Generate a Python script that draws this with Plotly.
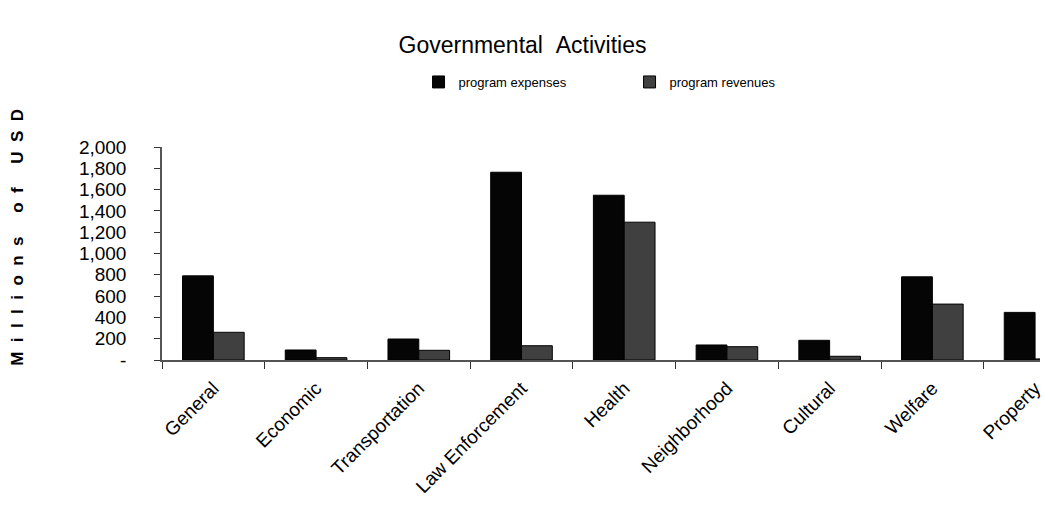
import plotly.graph_objects as go

categories = ["General", "Economic", "Transportation", "Law Enforcement", "Health",
              "Neighborhood", "Cultural", "Welfare", "Property"]
program_expenses = [790, 94, 197, 1763, 1547, 141, 185, 781, 447]
program_revenues = [260, 22, 91, 134, 1294, 125, 35, 525, 10]
y_tickvals = [0, 200, 400, 600, 800, 1000, 1200, 1400, 1600, 1800, 2000]
y_ticktext = ["-", "200", "400", "600", "800", "1,000", "1,200", "1,400", "1,600", "1,800", "2,000"]

FONT = "Liberation Sans, Arial, sans-serif"

fig = go.Figure()
fig.add_trace(go.Bar(x=categories, y=program_expenses, name="program expenses",
                     marker=dict(color="#050505", line=dict(color="#000000", width=1))))
fig.add_trace(go.Bar(x=categories, y=program_revenues, name="program revenues",
                     marker=dict(color="#404040", line=dict(color="#000000", width=1))))

nb = "\u00a0"
ytitle = (nb * 2).join("Millions") + nb * 5 + (nb * 2).join("of") + nb * 5 + (nb * 2).join("USD")

fig.update_layout(
    width=1045, height=521,
    margin=dict(l=162, r=0, t=147, b=161),
    paper_bgcolor="white", plot_bgcolor="white",
    barmode="group", bargap=0.4, bargroupgap=0,
    font=dict(family=FONT, color="#000000"),
    title=dict(text="Governmental" + nb * 2 + "Activities", x=0.5, xref="container", xanchor="center",
               y=1 - 45 / 521, yref="container", yanchor="middle", font=dict(size=23, family=FONT)),
    showlegend=True,
    legend=dict(orientation="h", x=(420 - 162) / 883, xanchor="left", y=1 + (147 - 82) / 213,
                yanchor="middle", font=dict(size=13, family=FONT), entrywidth=166,
                itemwidth=30, bgcolor="rgba(0,0,0,0)"),
    xaxis=dict(type="category", range=[-0.5, 8.048], tickson="boundaries",
               ticks="outside", ticklen=7, tickcolor="#333", tickwidth=1,
               showline=True, linecolor="#555", linewidth=1.5, tickangle=-45,
               ticklabelstandoff=8,
               tickfont=dict(size=19, family=FONT), showgrid=False),
    yaxis=dict(range=[0, 2000], tickvals=y_tickvals, ticktext=y_ticktext,
               ticks="outside", ticklen=6, tickcolor="#333", showline=True,
               linecolor="#555", linewidth=1.5, showgrid=False, zeroline=False,
               ticklabelstandoff=24,
               tickfont=dict(size=19, family=FONT)),
    annotations=[dict(text="<b>" + ytitle + "</b>", textangle=-90, xref="paper", yref="paper",
                      x=-(162 - 16) / 883, y=(360 - 237) / 213, xanchor="center", yanchor="middle",
                      showarrow=False, font=dict(size=17, family=FONT))],
)

fig.write_html("out.html")
